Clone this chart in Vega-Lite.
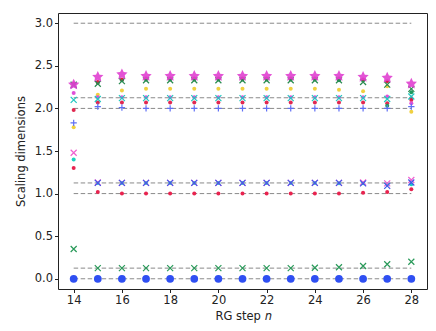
{
  "$schema": "https://vega.github.io/schema/vega-lite/v6.json",
  "width": 369,
  "height": 276,
  "autosize": {"type": "none"},
  "padding": {"left": 58, "top": 13, "right": 9, "bottom": 42},
  "background": "white",
  "config": {
    "view": {"stroke": "#222", "strokeWidth": 1},
    "axis": {
      "grid": false, "domain": false,
      "labelFont": "DejaVu Sans", "labelFontSize": 11.5, "labelColor": "#222",
      "titleFont": "DejaVu Sans", "titleFontSize": 11.5, "titleFontWeight": "normal", "titleColor": "#222",
      "tickColor": "#222", "tickSize": 3.5, "labelPadding": 2
    }
  },
  "datasets": {
    "levels": [{"v": 0}, {"v": 0.125}, {"v": 1}, {"v": 1.125}, {"v": 2}, {"v": 2.125}, {"v": 3}],
    "pts": [
      {"s":"A","n":14,"v":0},{"s":"A","n":15,"v":0},{"s":"A","n":16,"v":0},{"s":"A","n":17,"v":0},{"s":"A","n":18,"v":0},{"s":"A","n":19,"v":0},{"s":"A","n":20,"v":0},{"s":"A","n":21,"v":0},{"s":"A","n":22,"v":0},{"s":"A","n":23,"v":0},{"s":"A","n":24,"v":0},{"s":"A","n":25,"v":0},{"s":"A","n":26,"v":0},{"s":"A","n":27,"v":0},{"s":"A","n":28,"v":0},
      {"s":"B","n":14,"v":0.35},{"s":"B","n":15,"v":0.125},{"s":"B","n":16,"v":0.125},{"s":"B","n":17,"v":0.125},{"s":"B","n":18,"v":0.125},{"s":"B","n":19,"v":0.125},{"s":"B","n":20,"v":0.125},{"s":"B","n":21,"v":0.125},{"s":"B","n":22,"v":0.125},{"s":"B","n":23,"v":0.125},{"s":"B","n":24,"v":0.13},{"s":"B","n":25,"v":0.135},{"s":"B","n":26,"v":0.15},{"s":"B","n":27,"v":0.17},{"s":"B","n":28,"v":0.2},
      {"s":"C","n":14,"v":1.3},{"s":"C","n":15,"v":1.02},{"s":"C","n":16,"v":1.0},{"s":"C","n":17,"v":1.0},{"s":"C","n":18,"v":1.0},{"s":"C","n":19,"v":1.0},{"s":"C","n":20,"v":1.0},{"s":"C","n":21,"v":1.0},{"s":"C","n":22,"v":1.0},{"s":"C","n":23,"v":1.0},{"s":"C","n":24,"v":1.0},{"s":"C","n":25,"v":1.0},{"s":"C","n":26,"v":1.01},{"s":"C","n":27,"v":1.02},{"s":"C","n":28,"v":1.05},
      {"s":"D","n":14,"v":1.4},{"s":"D","n":15,"v":1.125},{"s":"D","n":16,"v":1.125},{"s":"D","n":17,"v":1.125},{"s":"D","n":18,"v":1.125},{"s":"D","n":19,"v":1.125},{"s":"D","n":20,"v":1.125},{"s":"D","n":21,"v":1.125},{"s":"D","n":22,"v":1.125},{"s":"D","n":23,"v":1.125},{"s":"D","n":24,"v":1.125},{"s":"D","n":25,"v":1.12},{"s":"D","n":26,"v":1.12},{"s":"D","n":27,"v":1.11},{"s":"D","n":28,"v":1.11},
      {"s":"E","n":14,"v":1.48},{"s":"E","n":15,"v":1.13},{"s":"E","n":16,"v":1.125},{"s":"E","n":17,"v":1.125},{"s":"E","n":18,"v":1.125},{"s":"E","n":19,"v":1.125},{"s":"E","n":20,"v":1.125},{"s":"E","n":21,"v":1.125},{"s":"E","n":22,"v":1.125},{"s":"E","n":23,"v":1.125},{"s":"E","n":24,"v":1.125},{"s":"E","n":25,"v":1.125},{"s":"E","n":26,"v":1.13},{"s":"E","n":27,"v":1.12},{"s":"E","n":28,"v":1.16},
      {"s":"F","n":14,"v":2.27},{"s":"F","n":15,"v":1.125},{"s":"F","n":16,"v":1.125},{"s":"F","n":17,"v":1.125},{"s":"F","n":18,"v":1.125},{"s":"F","n":19,"v":1.125},{"s":"F","n":20,"v":1.125},{"s":"F","n":21,"v":1.125},{"s":"F","n":22,"v":1.125},{"s":"F","n":23,"v":1.125},{"s":"F","n":24,"v":1.125},{"s":"F","n":25,"v":1.125},{"s":"F","n":26,"v":1.12},{"s":"F","n":27,"v":1.09},{"s":"F","n":28,"v":1.13},
      {"s":"G","n":14,"v":1.83},{"s":"G","n":15,"v":2.02},{"s":"G","n":16,"v":2.01},{"s":"G","n":17,"v":2.0},{"s":"G","n":18,"v":2.0},{"s":"G","n":19,"v":2.0},{"s":"G","n":20,"v":2.0},{"s":"G","n":21,"v":2.0},{"s":"G","n":22,"v":2.0},{"s":"G","n":23,"v":2.0},{"s":"G","n":24,"v":2.0},{"s":"G","n":25,"v":2.0},{"s":"G","n":26,"v":2.0},{"s":"G","n":27,"v":2.0},{"s":"G","n":28,"v":2.02},
      {"s":"H","n":14,"v":1.78},{"s":"H","n":15,"v":2.16},{"s":"H","n":16,"v":2.21},{"s":"H","n":17,"v":2.23},{"s":"H","n":18,"v":2.23},{"s":"H","n":19,"v":2.23},{"s":"H","n":20,"v":2.23},{"s":"H","n":21,"v":2.23},{"s":"H","n":22,"v":2.23},{"s":"H","n":23,"v":2.23},{"s":"H","n":24,"v":2.23},{"s":"H","n":25,"v":2.22},{"s":"H","n":26,"v":2.2},{"s":"H","n":27,"v":2.26},{"s":"H","n":28,"v":1.96},
      {"s":"I","n":14,"v":1.98},{"s":"I","n":15,"v":2.07},{"s":"I","n":16,"v":2.07},{"s":"I","n":17,"v":2.07},{"s":"I","n":18,"v":2.07},{"s":"I","n":19,"v":2.07},{"s":"I","n":20,"v":2.07},{"s":"I","n":21,"v":2.07},{"s":"I","n":22,"v":2.07},{"s":"I","n":23,"v":2.07},{"s":"I","n":24,"v":2.07},{"s":"I","n":25,"v":2.07},{"s":"I","n":26,"v":2.07},{"s":"I","n":27,"v":2.06},{"s":"I","n":28,"v":2.1},
      {"s":"J","n":14,"v":2.1},{"s":"J","n":15,"v":2.11},{"s":"J","n":16,"v":2.12},{"s":"J","n":17,"v":2.12},{"s":"J","n":18,"v":2.12},{"s":"J","n":19,"v":2.12},{"s":"J","n":20,"v":2.12},{"s":"J","n":21,"v":2.12},{"s":"J","n":22,"v":2.12},{"s":"J","n":23,"v":2.12},{"s":"J","n":24,"v":2.12},{"s":"J","n":25,"v":2.12},{"s":"J","n":26,"v":2.12},{"s":"J","n":27,"v":2.11},{"s":"J","n":28,"v":2.14},
      {"s":"K","n":14,"v":2.18},{"s":"K","n":15,"v":2.13},{"s":"K","n":16,"v":2.13},{"s":"K","n":17,"v":2.13},{"s":"K","n":18,"v":2.13},{"s":"K","n":19,"v":2.13},{"s":"K","n":20,"v":2.13},{"s":"K","n":21,"v":2.13},{"s":"K","n":22,"v":2.13},{"s":"K","n":23,"v":2.13},{"s":"K","n":24,"v":2.13},{"s":"K","n":25,"v":2.13},{"s":"K","n":26,"v":2.13},{"s":"K","n":27,"v":2.14},{"s":"K","n":28,"v":2.06},
      {"s":"L","n":14,"v":2.28},{"s":"L","n":15,"v":2.3},{"s":"L","n":16,"v":2.33},{"s":"L","n":17,"v":2.34},{"s":"L","n":18,"v":2.34},{"s":"L","n":19,"v":2.34},{"s":"L","n":20,"v":2.34},{"s":"L","n":21,"v":2.34},{"s":"L","n":22,"v":2.34},{"s":"L","n":23,"v":2.34},{"s":"L","n":24,"v":2.34},{"s":"L","n":25,"v":2.33},{"s":"L","n":26,"v":2.33},{"s":"L","n":27,"v":2.03},{"s":"L","n":28,"v":2.19},
      {"s":"M","n":14,"v":2.28},{"s":"M","n":15,"v":2.29},{"s":"M","n":16,"v":2.32},{"s":"M","n":17,"v":2.33},{"s":"M","n":18,"v":2.33},{"s":"M","n":19,"v":2.33},{"s":"M","n":20,"v":2.33},{"s":"M","n":21,"v":2.33},{"s":"M","n":22,"v":2.33},{"s":"M","n":23,"v":2.33},{"s":"M","n":24,"v":2.33},{"s":"M","n":25,"v":2.33},{"s":"M","n":26,"v":2.31},{"s":"M","n":27,"v":2.28},{"s":"M","n":28,"v":2.23},
      {"s":"N","n":14,"v":2.29},{"s":"N","n":15,"v":2.31},{"s":"N","n":16,"v":2.34},{"s":"N","n":17,"v":2.35},{"s":"N","n":18,"v":2.35},{"s":"N","n":19,"v":2.35},{"s":"N","n":20,"v":2.35},{"s":"N","n":21,"v":2.35},{"s":"N","n":22,"v":2.35},{"s":"N","n":23,"v":2.35},{"s":"N","n":24,"v":2.35},{"s":"N","n":25,"v":2.35},{"s":"N","n":26,"v":2.34},{"s":"N","n":27,"v":2.32},{"s":"N","n":28,"v":2.12},
      {"s":"O","n":14,"v":2.28},{"s":"O","n":15,"v":2.37},{"s":"O","n":16,"v":2.4},{"s":"O","n":17,"v":2.38},{"s":"O","n":18,"v":2.38},{"s":"O","n":19,"v":2.38},{"s":"O","n":20,"v":2.38},{"s":"O","n":21,"v":2.38},{"s":"O","n":22,"v":2.38},{"s":"O","n":23,"v":2.38},{"s":"O","n":24,"v":2.38},{"s":"O","n":25,"v":2.38},{"s":"O","n":26,"v":2.37},{"s":"O","n":27,"v":2.36},{"s":"O","n":28,"v":2.29}
    ]
  },
  "layer": [
    {
      "data": {"name": "levels"},
      "transform": [{"calculate": "14", "as": "x0"}, {"calculate": "28", "as": "x1"}],
      "mark": {"type": "rule", "color": "#8a8a8a", "strokeWidth": 1, "strokeDash": [4.5, 2.5]},
      "encoding": {
        "x": {"field": "x0", "type": "quantitative",
              "scale": {"domain": [13.35, 28.65], "nice": false, "zero": false},
              "axis": {"values": [14, 16, 18, 20, 22, 24, 26, 28], "title": "RG step 𝑛", "titlePadding": 4}},
        "x2": {"field": "x1"},
        "y": {"field": "v", "type": "quantitative",
              "scale": {"domain": [-0.12, 3.12], "nice": false, "zero": false},
              "axis": {"values": [0, 0.5, 1, 1.5, 2, 2.5, 3], "format": ".1f", "title": "Scaling dimensions", "titlePadding": 8}}
      }
    },
    {
      "data": {"name": "pts"},
      "transform": [{"filter": "datum.s === 'A'"}],
      "mark": {"type": "point", "shape": "circle", "filled": true, "size": 60, "opacity": 1},
      "encoding": {
        "x": {"field": "n", "type": "quantitative"},
        "y": {"field": "v", "type": "quantitative"},
        "color": {"field": "s", "type": "nominal", "legend": null,
                  "scale": {"domain": ["A","B","C","D","E","F","G","H","I","J","K","L","M","N","O"],
                            "range": ["#2f4ff2","#2a9a5a","#e8234f","#1dd3c0","#f060d0","#4058e8","#6070f5","#f0d040","#e02850","#20c8c0","#e050d8","#1e9a60","#2a8a50","#d81f48","#e040d0"]}}
      }
    },
    {
      "data": {"name": "pts"},
      "transform": [{"filter": "indexof(['C','D','H','I','K','L','N'], datum.s) >= 0"}],
      "mark": {"type": "point", "shape": "circle", "filled": true, "size": 16, "opacity": 1},
      "encoding": {
        "x": {"field": "n", "type": "quantitative"},
        "y": {"field": "v", "type": "quantitative"},
        "color": {"field": "s", "type": "nominal", "legend": null}
      }
    },
    {
      "data": {"name": "pts"},
      "transform": [{"filter": "indexof(['B','E','F','J','M'], datum.s) >= 0"}],
      "mark": {"type": "point", "shape": "M-1,-1L1,1M-1,1L1,-1", "filled": false, "size": 36, "strokeWidth": 1.2, "opacity": 1},
      "encoding": {
        "x": {"field": "n", "type": "quantitative"},
        "y": {"field": "v", "type": "quantitative"},
        "color": {"field": "s", "type": "nominal", "legend": null}
      }
    },
    {
      "data": {"name": "pts"},
      "transform": [{"filter": "datum.s === 'G'"}],
      "mark": {"type": "point", "shape": "M-1,0L1,0M0,-1L0,1", "filled": false, "size": 40, "strokeWidth": 1.2, "opacity": 1},
      "encoding": {
        "x": {"field": "n", "type": "quantitative"},
        "y": {"field": "v", "type": "quantitative"},
        "color": {"field": "s", "type": "nominal", "legend": null}
      }
    },
    {
      "data": {"name": "pts"},
      "transform": [{"filter": "datum.s === 'O'"}],
      "mark": {"type": "point", "shape": "M0,-1L0.3,-0.38L0.95,-0.31L0.48,0.16L0.59,0.81L0,0.5L-0.59,0.81L-0.48,0.16L-0.95,-0.31L-0.3,-0.38Z", "filled": true, "size": 140, "opacity": 0.9},
      "encoding": {
        "x": {"field": "n", "type": "quantitative"},
        "y": {"field": "v", "type": "quantitative"},
        "color": {"field": "s", "type": "nominal", "legend": null}
      }
    }
  ]
}
